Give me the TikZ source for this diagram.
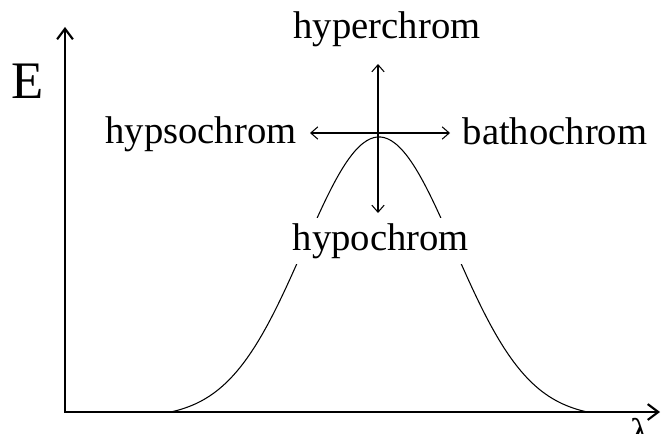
\documentclass[tikz,border=0pt]{standalone}
\usepackage{fontspec}
\setmainfont{Liberation Serif}
\usetikzlibrary{arrows.meta}

\tikzset{
  lbl/.style={font=\fontsize{22}{26}\selectfont,inner sep=0pt,anchor=base},
  axis/.style={line width=1.2pt,{Straight Barb[length=6pt,width=9pt]}-{Straight Barb[length=6pt,width=9pt]}},
  shiftarrow/.style={line width=0.6pt,{Straight Barb[length=4pt,width=7pt]}-{Straight Barb[length=4pt,width=7pt]}}
}

\begin{document}
\begin{tikzpicture}[x=0.02cm,y=0.02cm]
  \useasboundingbox (0,0) rectangle (661,433);

  % axes
  \coordinate (origin) at (65,21);
  \coordinate (ytip) at (65,406);
  \coordinate (xtip) at (660,21);
  \draw[axis] (ytip) -- (origin) -- (xtip);
  \node[font=\fontsize{30}{34}\selectfont,inner sep=0pt] (elabel) at (28,352) {E};
  \node[lbl,anchor=north,inner sep=0pt] (lambdalabel) at (640,15) {λ};

  % absorption band
  \draw[line width=0.6pt,domain=171:587,samples=120,smooth]
    plot (\x,{21+275*(exp(-((\x-379)/100)*((\x-379)/100)/1.125)-0.021)/0.979});

  % shifts at the maximum
  \coordinate (peak) at (378,300);
  \coordinate (up) at (378,369);
  \coordinate (down) at (378,220);
  \coordinate (left) at (310,300);
  \coordinate (right) at (450,300);
  \draw[shiftarrow] (left) -- (right);
  \draw[shiftarrow] (up) -- (down);

  \node[lbl] (hyper) at (387,394) {hyperchrom};
  \node[lbl] (hypso) at (201,290) {hypsochrom};
  \node[lbl] (batho) at (555,288) {bathochrom};
  \node[lbl,fill=white,inner sep=3pt] (hypo) at (381,183) {hypochrom};
\end{tikzpicture}
\end{document}
